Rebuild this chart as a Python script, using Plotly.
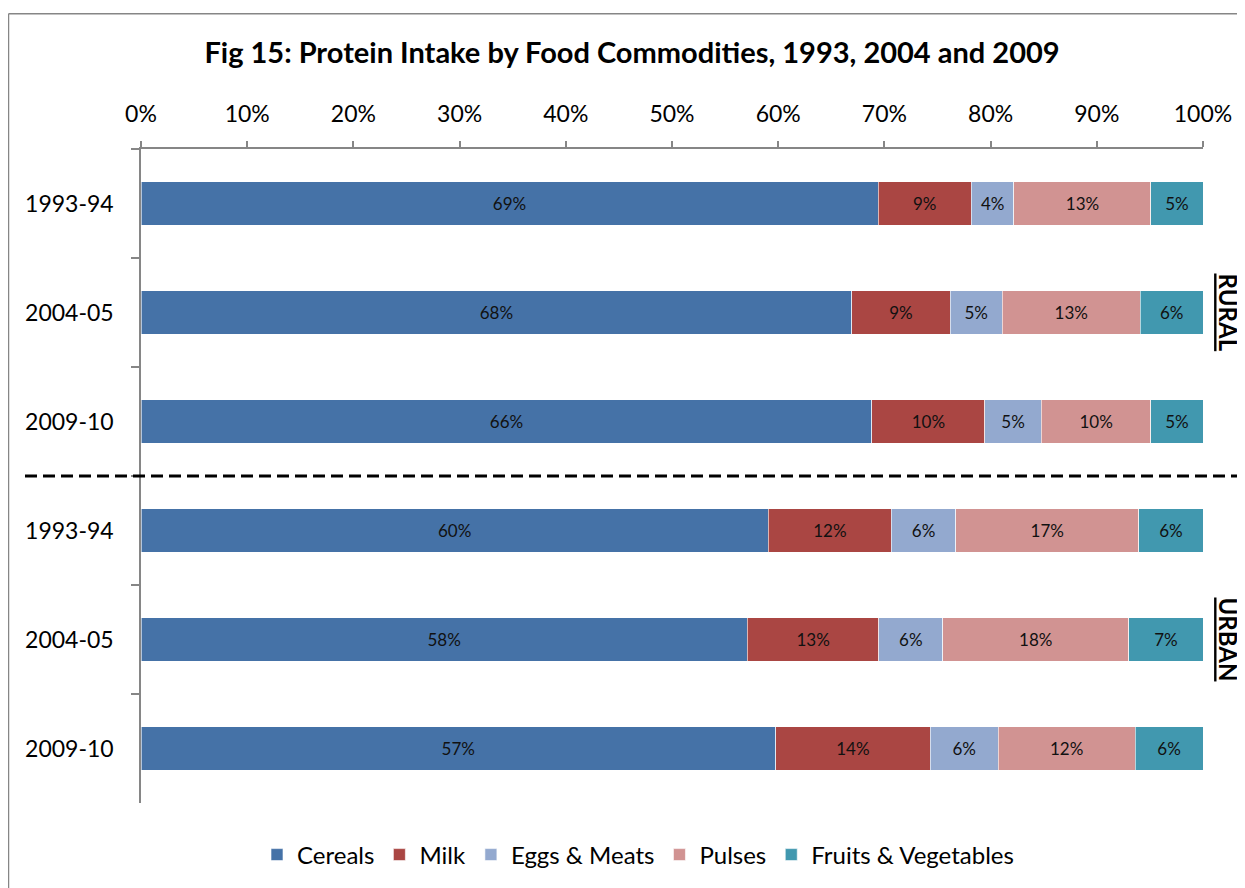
import plotly.graph_objects as go

# ---- data ----
row_keys = ["R1993-94", "R2004-05", "R2009-10", "U1993-94", "U2004-05", "U2009-10"]
year_labels = ["1993-94", "2004-05", "2009-10", "1993-94", "2004-05", "2009-10"]
commodities = ["Cereals", "Milk", "Eggs & Meats", "Pulses", "Fruits & Vegetables"]

cereals = [69.4, 68.0, 66.0, 59.6, 58.0, 57.0]
milk = [8.8, 9.4, 10.2, 11.7, 12.6, 13.9]
eggs_meats = [4.0, 5.0, 5.1, 6.1, 6.1, 6.1]
pulses = [12.9, 13.2, 9.9, 17.4, 17.8, 12.3]
fruits_veg = [4.9, 6.0, 4.7, 6.1, 7.1, 6.1]

series = [cereals, milk, eggs_meats, pulses, fruits_veg]
colors = ["#4572A7", "#AA4643", "#93A9CF", "#D19392", "#4198AF"]

x_ticks = list(range(0, 101, 10))
x_tick_text = [f"{v}%" for v in x_ticks]

FONT = "Lato, 'Open Sans', Arial, sans-serif"

fig = go.Figure()
for name, vals, col in zip(commodities, series, colors):
    fig.add_trace(go.Bar(
        y=row_keys, x=vals, name=name, orientation="h",
        marker=dict(color=col, line=dict(color="rgba(255,255,255,0.6)", width=1)),
        text=[f"{v:.0f}%" for v in vals],
        textposition="inside", insidetextanchor="middle",
        constraintext="none",
        textfont=dict(family=FONT, size=17, color="#111111"),
        hoverinfo="skip",
    ))

# page has an 8px body margin: figure origin sits at (8, 8) of the screenshot
OFF = 8
W, H = 1245 - OFF, 888 - OFF
L, R, T, B = 141 - OFF, 42, 149 - OFF, 84
pw, ph = W - L - R, H - T - B


def px_x(p):  # screenshot px -> paper x
    return (p - 141) / pw


def px_y(p):  # screenshot px -> paper y
    return (804 - p) / ph


fig.update_layout(
    width=W, height=H,
    barmode="stack", barnorm="percent", bargap=0.6,
    margin=dict(l=L, r=R, t=T, b=B),
    paper_bgcolor="white", plot_bgcolor="white",
    font=dict(family=FONT, size=23, color="black"),
    title=dict(
        text="<b>Fig 15: Protein Intake by Food Commodities, 1993, 2004 and 2009</b>",
        x=(632 - OFF) / W, xref="container", xanchor="center",
        y=1 - (53 - OFF) / H, yref="container", yanchor="middle",
        font=dict(family=FONT, size=29, color="black"),
    ),
    xaxis=dict(
        side="top", range=[0, 100], tickmode="array", tickvals=x_ticks, ticktext=x_tick_text,
        showgrid=False, zeroline=False, showline=True, linecolor="#868686", linewidth=1.5,
        ticks="outside", ticklen=6, tickcolor="#868686", tickwidth=1.5,
        tickfont=dict(family=FONT, size=23, color="black"),
        ticklabelstandoff=10,
    ),
    yaxis=dict(
        type="category", autorange="reversed",
        labelalias=dict(zip(row_keys, year_labels)),
        showgrid=False, zeroline=False, showline=True, linecolor="#868686", linewidth=1.5,
        ticks="outside", ticklen=8, tickcolor="#868686", tickwidth=1.5,
        tickson="boundaries",
        tickfont=dict(family=FONT, size=23, color="black"),
        ticklabelstandoff=21,
    ),
    legend=dict(
        orientation="h", x=px_x(638), xanchor="center", y=px_y(855), yanchor="middle",
        font=dict(family=FONT, size=24, color="black"),
        traceorder="normal", itemwidth=30,
    ),
    showlegend=True,
)

# dashed separator between rural and urban
fig.add_shape(type="line", xref="paper", yref="y",
              x0=px_x(25), x1=px_x(1237), y0=2.5, y1=2.5,
              line=dict(color="black", width=3, dash="12px,6px"))

# outer chart border (left and top edges visible in the frame)
fig.add_shape(type="line", xref="paper", yref="paper",
              x0=px_x(8.5), x1=px_x(8.5), y0=px_y(900), y1=px_y(13.5),
              line=dict(color="#868686", width=1.5))
fig.add_shape(type="line", xref="paper", yref="paper",
              x0=px_x(8.5), x1=px_x(1260), y0=px_y(13.5), y1=px_y(13.5),
              line=dict(color="#868686", width=1.5))

# group labels
for label, row in (("RURAL", 1), ("URBAN", 4)):
    fig.add_annotation(
        text=f"<b><u>{label}</u></b>", textangle=90,
        xref="paper", x=px_x(1228), xanchor="center",
        yref="y", y=row, yanchor="middle",
        showarrow=False, font=dict(family=FONT, size=24, color="black"),
    )

fig.write_html("out.html")
